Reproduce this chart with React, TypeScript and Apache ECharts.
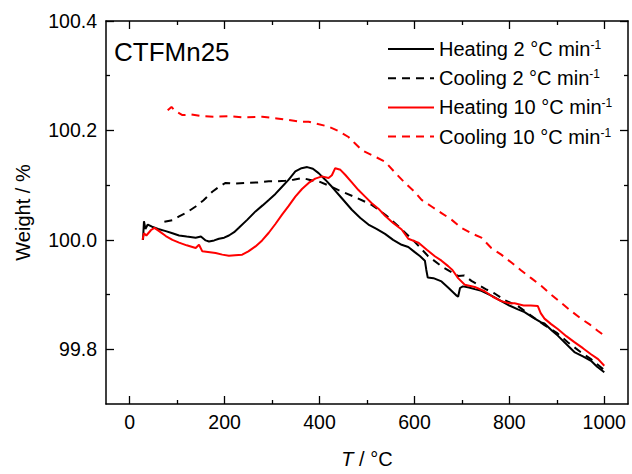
import React, { useEffect, useRef } from "react";
import * as echarts from "echarts";

const FONT = '"Liberation Sans", Arial, Helvetica, sans-serif';

// Heating 2 °C/min (black solid)
const heating2Temp = [28, 30, 33, 38, 47, 60, 76, 90, 104, 120, 139, 150, 160, 167, 178, 188, 199, 209, 220, 230, 248, 265, 280, 293, 307, 321, 335, 349, 362, 374, 386, 398, 412, 426, 447, 468, 486, 503, 520, 538, 555, 573, 587, 600, 612, 622, 625, 628, 640, 657, 672, 689, 692, 696, 702, 715, 727, 741, 762, 783, 800, 818, 832, 850, 867, 874, 890, 902, 923, 937, 955, 972, 985, 1000];
const heating2Weight = [100.0, 100.034, 100.02, 100.028, 100.024, 100.02, 100.016, 100.012, 100.008, 100.006, 100.004, 100.006, 99.999, 99.997, 99.999, 100.002, 100.004, 100.008, 100.014, 100.022, 100.037, 100.052, 100.063, 100.073, 100.084, 100.097, 100.11, 100.125, 100.131, 100.133, 100.13, 100.122, 100.11, 100.097, 100.076, 100.055, 100.04, 100.028, 100.02, 100.011, 100.0, 99.991, 99.987, 99.978, 99.97, 99.962, 99.945, 99.931, 99.93, 99.924, 99.912, 99.898, 99.896, 99.912, 99.915, 99.913, 99.91, 99.907, 99.898, 99.888, 99.88, 99.873, 99.868, 99.858, 99.849, 99.847, 99.834, 99.825, 99.807, 99.795, 99.787, 99.779, 99.768, 99.758];

// Cooling 2 °C/min (black dashed)
const cooling2Temp = [73, 90, 104, 120, 139, 155, 174, 190, 202, 220, 244, 270, 293, 310, 328, 345, 363, 378, 391, 398, 420, 440, 475, 510, 540, 566, 600, 629, 660, 692, 705, 720, 734, 750, 769, 790, 818, 845, 874, 900, 923, 950, 972, 1000];
const cooling2Weight = [100.033, 100.036, 100.043, 100.05, 100.061, 100.072, 100.088, 100.098, 100.104, 100.103, 100.104, 100.105, 100.107, 100.107, 100.108, 100.11, 100.113, 100.11, 100.107, 100.107, 100.099, 100.091, 100.078, 100.064, 100.045, 100.025, 99.997, 99.97, 99.95, 99.934, 99.935, 99.925, 99.918, 99.91, 99.902, 99.89, 99.879, 99.862, 99.844, 99.83, 99.813, 99.795, 99.782, 99.762];

// Heating 10 °C/min (red solid)
const heating10Temp = [27, 30, 35, 45, 52, 62, 76, 90, 104, 120, 139, 146, 153, 165, 181, 195, 209, 222, 237, 250, 265, 279, 293, 307, 321, 335, 349, 363, 377, 391, 405, 419, 426, 433, 444, 454, 468, 482, 496, 510, 524, 538, 555, 573, 587, 608, 626, 643, 657, 671, 680, 692, 706, 727, 748, 765, 783, 800, 811, 830, 845, 860, 866, 874, 888, 902, 920, 937, 955, 972, 987, 1000];
const heating10Weight = [100.0, 100.012, 100.008, 100.018, 100.022, 100.016, 100.007, 100.0, 99.995, 99.99, 99.985, 99.991, 99.979, 99.978, 99.976, 99.973, 99.971, 99.972, 99.973, 99.979, 99.988, 99.999, 100.013, 100.029, 100.046, 100.062, 100.079, 100.093, 100.104, 100.112, 100.116, 100.113, 100.118, 100.131, 100.128, 100.119, 100.105, 100.091, 100.079, 100.067, 100.057, 100.044, 100.031, 100.019, 100.002, 99.995, 99.982, 99.97, 99.962, 99.952, 99.945, 99.93, 99.918, 99.914, 99.906, 99.896, 99.888, 99.884, 99.884, 99.88, 99.88, 99.879, 99.866, 99.856, 99.846, 99.837, 99.824, 99.813, 99.802, 99.791, 99.782, 99.77];

// Cooling 10 °C/min (red dashed)
const cooling10Temp = [80, 88, 95, 111, 130, 153, 180, 209, 240, 279, 310, 335, 360, 377, 391, 419, 440, 461, 475, 489, 510, 538, 560, 580, 600, 615, 636, 657, 678, 699, 720, 741, 762, 783, 805, 825, 846, 867, 888, 909, 930, 951, 970, 986, 1000];
const cooling10Weight = [100.237, 100.243, 100.236, 100.228, 100.229, 100.226, 100.225, 100.226, 100.224, 100.225, 100.222, 100.219, 100.216, 100.216, 100.213, 100.207, 100.199, 100.188, 100.176, 100.164, 100.155, 100.143, 100.122, 100.104, 100.088, 100.073, 100.061, 100.049, 100.037, 100.022, 100.012, 100.004, 99.985, 99.973, 99.958, 99.944, 99.93, 99.916, 99.9, 99.885, 99.87, 99.856, 99.845, 99.834, 99.825];

const seriesNames = [
  "Heating 2 °C min-1",
  "Cooling 2 °C min-1",
  "Heating 10 °C min-1",
  "Cooling 10 °C min-1",
];

const xMajorTicks = [0, 200, 400, 600, 800, 1000];
const xMinorTicks = [100, 300, 500, 700, 900];
const yMajorTicks = [99.8, 100.0, 100.2, 100.4];
const yMinorTicks = [99.9, 100.1, 100.3];

const zip = (xs: number[], ys: number[]) => xs.map((x, i) => [x, ys[i]]);

export default function App() {
  const ref = useRef<HTMLDivElement>(null);
  useEffect(() => {
    if (!ref.current) return;
    const chart = echarts.init(ref.current, undefined, { renderer: "svg" });
    const axisColor = "#000";
    const X_MIN = -50, X_MAX = 1050, Y_MIN = 99.7, Y_MAX = 100.4;
    const tickStyle = { color: axisColor, width: 1.3 };
    const mkX = (pos: "top" | "bottom", major: boolean, showLabel: boolean, showLine: boolean) => ({
      type: "value",
      min: X_MIN,
      max: X_MAX,
      position: pos,
      splitLine: { show: false },
      axisLine: { show: showLine, onZero: false, lineStyle: { color: axisColor, width: 1.5 } },
      axisTick: {
        show: true,
        inside: true,
        length: major ? 8 : 4,
        customValues: major ? xMajorTicks : xMinorTicks,
        lineStyle: tickStyle,
      },
      axisLabel: {
        show: showLabel,
        customValues: xMajorTicks,
        color: axisColor,
        fontSize: 19.5,
        fontFamily: FONT,
        margin: 8,
        formatter: (v: number) => String(Math.round(v)),
      },
    });
    const mkY = (pos: "left" | "right", major: boolean, showLabel: boolean, showLine: boolean) => ({
      type: "value",
      min: Y_MIN,
      max: Y_MAX,
      position: pos,
      splitLine: { show: false },
      axisLine: { show: showLine, onZero: false, lineStyle: { color: axisColor, width: 1.5 } },
      axisTick: {
        show: true,
        inside: true,
        length: major ? 8 : 4,
        customValues: major ? yMajorTicks : yMinorTicks,
        lineStyle: tickStyle,
      },
      axisLabel: {
        show: showLabel,
        customValues: yMajorTicks,
        color: axisColor,
        fontSize: 19.5,
        fontFamily: FONT,
        margin: 9,
        formatter: (v: number) => v.toFixed(1),
      },
    });

    const xBottom: any = mkX("bottom", true, true, true);
    xBottom.name = "{i|T} / °C";
    xBottom.nameLocation = "middle";
    xBottom.nameGap = 45;
    xBottom.nameTextStyle = {
      color: axisColor,
      fontSize: 20,
      fontFamily: FONT,
      rich: { i: { fontStyle: "italic", fontSize: 20, fontFamily: FONT, color: axisColor } },
    };
    const yLeft: any = mkY("left", true, true, true);
    yLeft.name = "Weight / %";
    yLeft.nameLocation = "middle";
    yLeft.nameGap = 73;
    yLeft.nameTextStyle = { color: axisColor, fontSize: 20, fontFamily: FONT };

    const colors = ["#000000", "#000000", "#ff0000", "#ff0000"];
    const dashed = [false, true, false, true];
    const datasets = [
      zip(heating2Temp, heating2Weight),
      zip(cooling2Temp, cooling2Weight),
      zip(heating10Temp, heating10Weight),
      zip(cooling10Temp, cooling10Weight),
    ];

    chart.setOption({
      animation: false,
      backgroundColor: "#ffffff",
      textStyle: { fontFamily: FONT },
      grid: { left: 106, right: 4, top: 21, bottom: 68, containLabel: false },
      title: {
        text: "CTFMn25",
        left: 109,
        top: 34,
        textStyle: { fontSize: 26, fontWeight: "normal", color: axisColor, fontFamily: FONT },
      },
      legend: {
        orient: "vertical",
        left: 382,
        top: 34,
        itemWidth: 46,
        itemHeight: 14,
        itemGap: 9.2,
        data: seriesNames,
        itemStyle: { opacity: 0 },
        formatter: (name: string) => name.replace(/min-1$/, "min{sup|-1}"),
        textStyle: {
          color: axisColor,
          fontSize: 20,
          fontFamily: FONT,
          lineHeight: 20,
          rich: {
            sup: { fontSize: 12, fontFamily: FONT, color: axisColor, verticalAlign: "top", lineHeight: 20 },
          },
        },
      },
      xAxis: [
        xBottom,
        mkX("bottom", false, false, false),
        mkX("top", true, false, true),
        mkX("top", false, false, false),
      ],
      yAxis: [
        yLeft,
        mkY("left", false, false, false),
        mkY("right", true, false, true),
        mkY("right", false, false, false),
      ],
      series: datasets.map((d, i) => ({
        name: seriesNames[i],
        type: "line",
        xAxisIndex: 0,
        yAxisIndex: 0,
        data: d,
        symbol: "none",
        showSymbol: false,
        smooth: false,
        lineStyle: { color: colors[i], width: 2, type: dashed[i] ? [8, 6] : "solid" },
        itemStyle: { color: colors[i] },
      })),
    });
    return () => chart.dispose();
  }, []);
  return (
    <div
      ref={ref}
      style={{ position: "fixed", left: 0, top: 0, width: 632, height: 474, background: "#fff" }}
    />
  );
}
